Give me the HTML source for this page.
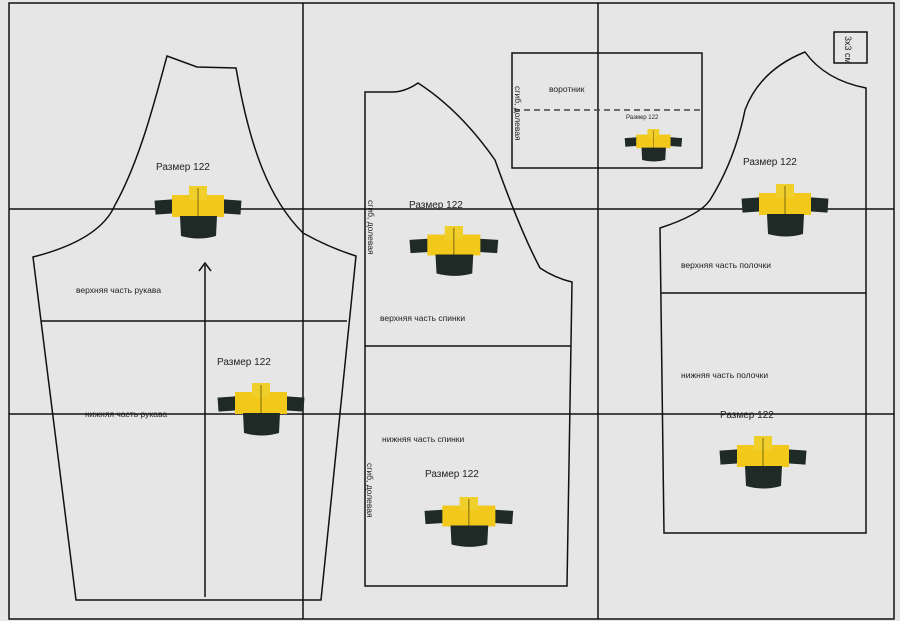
<!DOCTYPE html>
<html><head><meta charset="utf-8"><style>
body{margin:0;background:#e6e6e6}
svg{display:block}
text{font-family:"Liberation Sans",sans-serif;fill:#222}
</style></head><body>
<svg width="900" height="621" viewBox="0 0 900 621" xmlns="http://www.w3.org/2000/svg">
<defs>
<g id="j">
<rect x="0" y="14" width="18" height="14" fill="#1f2a26" transform="rotate(-4 9 21)"/>
<rect x="68" y="14" width="18" height="14" fill="#1f2a26" transform="rotate(4 77 21)"/>
<rect x="17" y="9" width="52" height="22" fill="#f2c81a"/>
<rect x="34" y="0" width="18" height="14" fill="#f0cf2a"/>
<path d="M25 30 H62 L61 50 Q44 55 26 50 Z" fill="#1f2a26"/>
<line x1="43" y1="2" x2="43" y2="30" stroke="#7a6a10" stroke-width="1"/>
</g>
</defs>
<rect width="900" height="621" fill="#e6e6e6"/>
<g fill="none" stroke="#111" stroke-width="1.5">
<rect x="9" y="3" width="885" height="616"/>
<line x1="303" y1="3" x2="303" y2="619"/>
<line x1="598" y1="3" x2="598" y2="619"/>
<line x1="9" y1="209" x2="894" y2="209"/>
<line x1="9" y1="414" x2="894" y2="414"/>
<!-- sleeve -->
<path d="M167 56 L197 67 L236 68 C250 150 270 200 303 233 Q330 248 356 256 L321 600 L76 600 L33 257 Q100 240 115 205 C140 160 155 100 167 56 Z"/>
<line x1="41" y1="321" x2="347" y2="321"/>
<line x1="205" y1="265" x2="205" y2="597"/>
<path d="M199 271 L205 263 L211 271"/>
<!-- back -->
<path d="M365 92 L392 92 Q405 92 418 83 Q460 110 495 160 Q520 230 540 268 Q555 278 572 282 L567 586 L365 586 Z"/>
<line x1="365" y1="346" x2="571" y2="346"/>
<!-- collar -->
<rect x="512" y="53" width="190" height="115"/>
<line x1="514" y1="110" x2="700" y2="110" stroke-dasharray="6,4" stroke="#444"/>
<!-- front -->
<path d="M805 52 Q825 80 866 88 L866 533 L664 533 L660 228 Q700 215 710 200 Q735 160 745 110 Q760 70 805 52 Z"/>
<line x1="661" y1="293" x2="866" y2="293"/>
<rect x="834" y="32" width="33" height="31"/>
</g>
<text x="0" y="0" font-size="9" transform="translate(845,36) rotate(90)">3х3 см</text>
<text x="156" y="170" font-size="10">Размер 122</text>
<text x="217" y="365" font-size="10">Размер 122</text>
<text x="409" y="208" font-size="10">Размер 122</text>
<text x="425" y="477" font-size="10">Размер 122</text>
<text x="743" y="165" font-size="10">Размер 122</text>
<text x="720" y="418" font-size="10">Размер 122</text>
<text x="626" y="119" font-size="6">Размер 122</text>
<text x="76" y="293" font-size="8.5">верхняя часть рукава</text>
<text x="85" y="417" font-size="8.5">нижняя часть рукава</text>
<text x="380" y="321" font-size="8.5">верхняя часть спинки</text>
<text x="382" y="442" font-size="8.5">нижняя часть спинки</text>
<text x="681" y="268" font-size="8.5">верхняя часть полочки</text>
<text x="681" y="378" font-size="8.5">нижняя часть полочки</text>
<text x="549" y="92" font-size="8.5">воротник</text>
<text x="0" y="0" font-size="8.5" transform="translate(368,200) rotate(90)">сгиб, долевая</text>
<text x="0" y="0" font-size="8.5" transform="translate(367,463) rotate(90)">сгиб, долевая</text>
<text x="0" y="0" font-size="8.5" transform="translate(515,86) rotate(90)">сгиб, долевая</text>
<use href="#j" transform="translate(155,186)"/>
<use href="#j" transform="translate(218,383)"/>
<use href="#j" transform="translate(410,226) scale(1.02,0.95)"/>
<use href="#j" transform="translate(425,497) scale(1.02,0.95)"/>
<use href="#j" transform="translate(625,129) scale(0.66,0.62)"/>
<use href="#j" transform="translate(742,184)"/>
<use href="#j" transform="translate(720,436)"/>
</svg>
</body></html>
